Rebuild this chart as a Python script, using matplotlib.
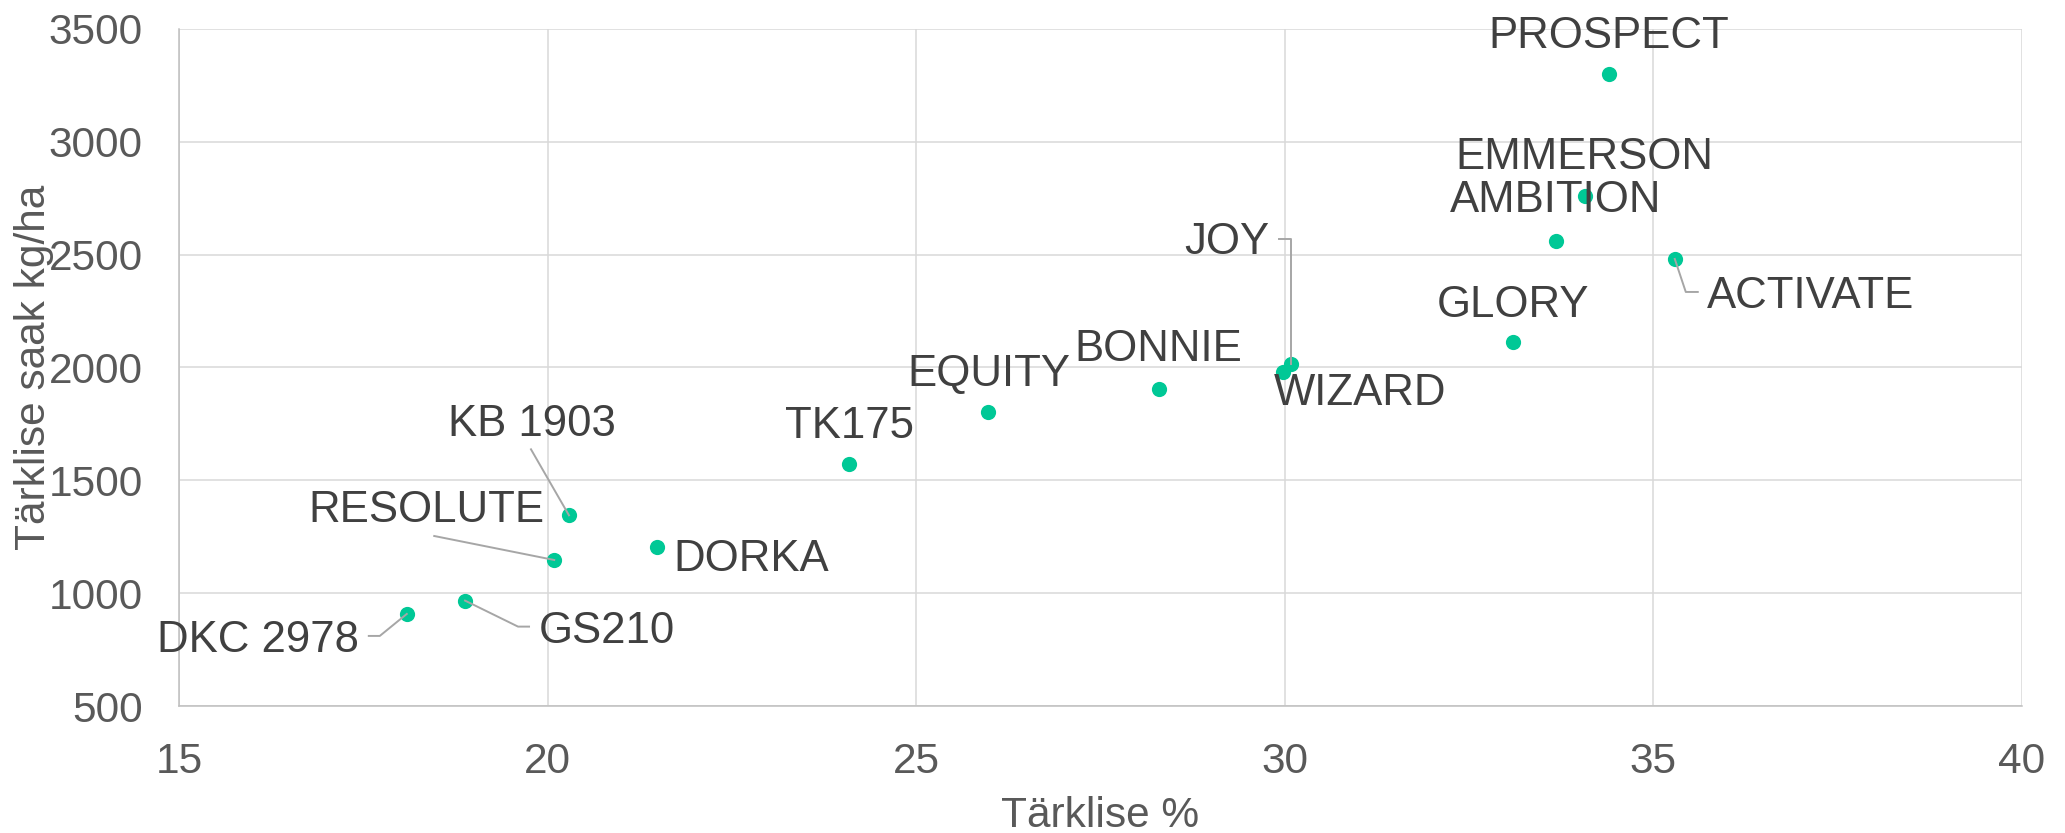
import numpy as np
import matplotlib.pyplot as plt

# andmed
names = ['PROSPECT', 'EMMERSON', 'AMBITION', 'ACTIVATE', 'GLORY', 'JOY', 'WIZARD',
         'BONNIE', 'EQUITY', 'TK175', 'KB 1903', 'DORKA', 'RESOLUTE', 'GS210', 'DKC 2978']
starch_pct = [34.4, 34.07, 33.68, 35.29, 33.09, 30.09, 29.98,
              28.29, 25.98, 24.09, 20.29, 21.48, 20.09, 18.88, 18.09]
starch_yield = [3302, 2760, 2562, 2481, 2114, 2015, 1980,
                1904, 1805, 1572, 1345, 1205, 1147, 967, 908]

# sildi nihe punktist (pikslites), joondus
label_pos = {
    'PROSPECT': (0, 26, 'center'),
    'EMMERSON': (0, 27, 'center'),
    'AMBITION': (0, 29, 'center'),
    'ACTIVATE': (32, -49, 'left'),
    'GLORY': (0, 25, 'center'),
    'JOY': (-22, 110, 'right'),
    'WIZARD': (-10, -33, 'left'),
    'BONNIE': (0, 28, 'center'),
    'EQUITY': (0, 26, 'center'),
    'TK175': (0, 26, 'center'),
    'KB 1903': (-37, 79, 'center'),
    'DORKA': (17, -24, 'left'),
    'RESOLUTE': (-10, 38, 'right'),
    'GS210': (74, -42, 'left'),
    'DKC 2978': (-48, -38, 'right'),
}
# juhtjooned (pikslites punkti suhtes)
leaders = {
    'JOY': [(0, 0), (0, 125), (-12, 125)],
    'ACTIVATE': [(0, 0), (11, -33), (23, -33)],
    'KB 1903': [(0, 0), (-38, 66)],
    'RESOLUTE': [(0, 0), (-120, 24)],
    'GS210': [(0, 0), (53, -26), (64, -26)],
    'DKC 2978': [(0, 0), (-27, -22), (-38, -22)],
}

plt.rcParams['font.family'] = ['Liberation Sans', 'DejaVu Sans']

fig = plt.figure(figsize=(20.65, 8.33), dpi=100)
ax = fig.add_axes([179 / 2065, 1 - 706 / 833, (2022 - 179) / 2065, (706 - 29) / 833])

ax.set_xlim(15, 40)
ax.set_ylim(500, 3500)
ax.set_xticks(np.arange(15, 41, 5))
ax.set_yticks(np.arange(500, 3501, 500))
ax.grid(True, color='#d9d9d9', lw=1.1)
ax.set_axisbelow(True)
for s in ['top', 'right']:
    ax.spines[s].set_visible(False)
for s in ['left', 'bottom']:
    ax.spines[s].set_color('#bfbfbf')
    ax.spines[s].set_linewidth(1.1)
ax.tick_params(length=0, labelsize=30.5, labelcolor='#595959')
ax.tick_params(axis='x', pad=26)
ax.tick_params(axis='y', pad=26)

ax.scatter(starch_pct, starch_yield, s=120, color='#00C896', zorder=3, linewidths=0)

fig.canvas.draw()
for name, x, y in zip(names, starch_pct, starch_yield):
    px, py = ax.transData.transform((x, y))
    dx, dy, ha = label_pos[name]
    ax.annotate(name, (x, y), xytext=(dx, dy), textcoords='offset pixels',
                ha=ha, va='baseline', fontsize=31.5, color='#404040', zorder=4)
    if name in leaders:
        pts = np.array(leaders[name], dtype=float) + [px, py]
        fig.add_artist(plt.Line2D(pts[:, 0], pts[:, 1], transform=None,
                                  color='#a6a6a6', lw=1.4, zorder=2))

ax.set_xlabel('Tärklise %', fontsize=30.5, color='#595959', labelpad=10)
ax.set_ylabel('Tärklise saak kg/ha', fontsize=30.5, color='#595959')
ax.yaxis.set_label_coords(-0.068, 0.5)

fig.savefig('out.png', dpi=100)
plt.close()
